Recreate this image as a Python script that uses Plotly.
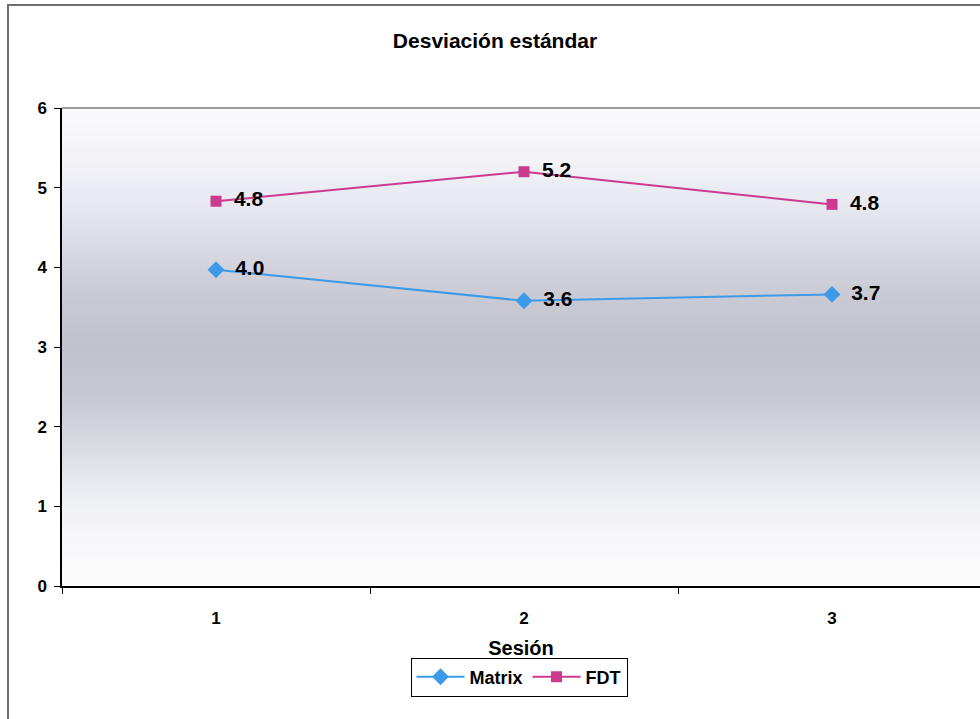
import plotly.graph_objects as go

# ---- data ----
sessions = ["1", "2", "3"]
matrix_values = [3.97, 3.58, 3.66]
fdt_values = [4.83, 5.20, 4.79]
y_ticks = [0, 1, 2, 3, 4, 5, 6]

FONT = "Arial, Liberation Sans, sans-serif"

fig = go.Figure()
fig.add_trace(go.Scatter(
    x=sessions, y=matrix_values, name="Matrix", mode="lines+markers+text",
    line=dict(color="#3d9ae8", width=2),
    marker=dict(symbol="diamond", size=13, color="#3d9ae8"),
    text=[f"\u2009 {v:.1f}" for v in matrix_values], textposition="middle right",
    textfont=dict(family=FONT, size=21, color="black", weight="bold"),
    cliponaxis=False,
))
fig.add_trace(go.Scatter(
    x=sessions, y=fdt_values, name="FDT", mode="lines+markers+text",
    line=dict(color="#cc3a8e", width=2),
    marker=dict(symbol="square", size=11, color="#cc3a8e"),
    text=[f"\u2009 {v:.1f}" for v in fdt_values], textposition="middle right",
    textfont=dict(family=FONT, size=21, color="black", weight="bold"),
    cliponaxis=False,
))

# gradient background bands (style only)
stops = [(0.0, (252, 252, 252)), (0.6, (247, 247, 250)), (1.2, (236, 237, 242)),
         (1.8, (216, 217, 224)), (2.4, (199, 200, 208)), (3.0, (193, 195, 204)),
         (3.6, (200, 201, 211)), (4.2, (215, 216, 225)), (4.8, (232, 233, 241)),
         (5.4, (243, 243, 248)), (6.0, (250, 250, 252))]

def col_at(v):
    for (a, ca), (b, cb) in zip(stops[:-1], stops[1:]):
        if a <= v <= b:
            t = (v - a) / (b - a)
            return tuple(int(round(ca[i] + (cb[i] - ca[i]) * t)) for i in range(3))
    return stops[-1][1]

shapes = []
n = 120
for i in range(n):
    y0 = 6 * i / n
    y1 = 6 * (i + 1) / n
    c = col_at((y0 + y1) / 2)
    shapes.append(dict(type="rect", xref="paper", yref="y", x0=0, x1=1, y0=y0, y1=y1 + 0.01,
                       fillcolor=f"rgb({c[0]},{c[1]},{c[2]})", line=dict(width=0), layer="below"))

# plot area top border
shapes.append(dict(type="line", xref="paper", yref="paper", x0=0, x1=1, y0=1, y1=1,
                   line=dict(color="#7a7a7a", width=1.5)))
# outer chart border (cut off at right and bottom)
W, H = 980, 719
L, R, T, B = 62, 0, 108, 133
pw, ph = W - L - R, H - T - B
def px_x(p):
    return (p - L) / pw
def px_y(p):
    return (H - B - p) / ph
shapes.append(dict(type="rect", xref="paper", yref="paper",
                   x0=px_x(8), x1=px_x(1100), y0=px_y(5), y1=px_y(900),
                   line=dict(color="#6e6e6e", width=2), fillcolor="rgba(0,0,0,0)", layer="below"))

fig.update_layout(
    width=W, height=H,
    margin=dict(l=L, r=R, t=T, b=B, pad=0),
    paper_bgcolor="white", plot_bgcolor="white",
    font=dict(family=FONT, size=14, color="black"),
    title=dict(text="<b>Desviación estándar</b>", x=px_x(495), xref="paper", xanchor="center",
               y=1 - 41 / H, yanchor="middle", font=dict(family=FONT, size=21, color="black")),
    shapes=shapes,
    showlegend=True,
    legend=dict(orientation="h", x=px_x(519), xanchor="center", y=px_y(677), yanchor="middle",
                bordercolor="black", borderwidth=1, bgcolor="white",
                font=dict(family=FONT, size=18, color="black", weight="bold"),
                itemwidth=48, tracegroupgap=0),
)

fig.update_xaxes(
    type="category", range=[-0.5, -0.5 + pw / 308.0],
    tickson="boundaries", ticks="outside", ticklen=6, tickcolor="black", tickwidth=1,
    showline=True, linecolor="black", linewidth=1.5, showgrid=False, zeroline=False,
    tickfont=dict(family=FONT, size=17, color="black", weight="bold"),
    ticklabelstandoff=16,
    title=dict(text="<b>Sesión</b>", font=dict(family=FONT, size=20, color="black"), standoff=14),
)
fig.update_yaxes(
    range=[0, 6], tickvals=y_ticks, ticktext=[str(v) for v in y_ticks],
    ticks="outside", ticklen=6, tickcolor="black", tickwidth=1,
    showline=True, linecolor="black", linewidth=1.5, showgrid=False, zeroline=False,
    tickfont=dict(family=FONT, size=17, color="black", weight="bold"),
    ticklabelstandoff=4,
)

fig.write_html("out.html", config={"displayModeBar": False},
               post_script="document.body.style.margin='0px';document.body.style.overflow='hidden';")
